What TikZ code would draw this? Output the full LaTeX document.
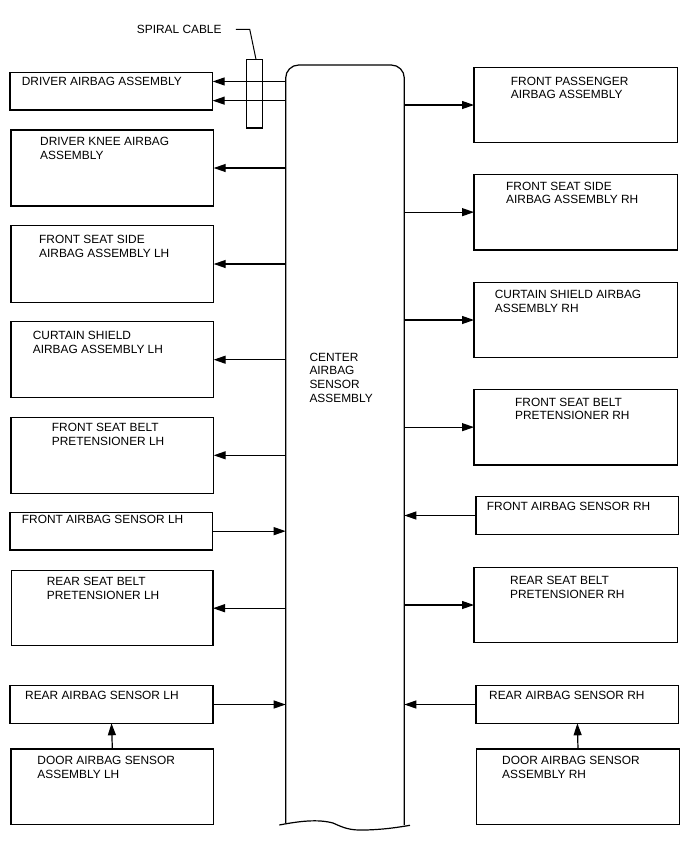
\documentclass[tikz,border=0pt]{standalone}
\usepackage{fontspec}
\setmainfont{Liberation Sans}
\usetikzlibrary{arrows.meta, positioning, calc}

\begin{document}
\begin{tikzpicture}[
		x=1pt, y=-1pt,
		every node/.style={font=\fontsize{11.9}{13.6}\selectfont},
		box/.style={draw, line width=1.2pt, rectangle, anchor=north west, outer sep=0pt, inner sep=0pt},
		lbl/.style={anchor=north west, inner sep=0pt, align=left},
		sig/.style={-{Triangle[length=12pt, width=8pt]}, line width=1.2pt}
		]
		\useasboundingbox (0,0) rectangle (688,852);
		
		% Center unit
		\node[minimum width=118.6, minimum height=760, anchor=north west, inner sep=0pt, outer sep=0pt] (ecu) at (285.7,65) {};
		\draw[line width=1.2pt, rounded corners=13pt] ([yshift=1.7pt]ecu.south west) -- (ecu.north west) -- (ecu.north east) -- (ecu.south east);
		\draw[line width=1.2pt] (279.3,825) .. controls (300,821) and (318,819) .. (333,823)
		.. controls (344,828) and (350,830.5) .. (365,830)
		.. controls (385,829.5) and (400,827) .. (410,825.3);
		\node[lbl] at ([shift={(23.6,287.7)}]ecu.north west) {CENTER\\AIRBAG\\SENSOR\\ASSEMBLY};
		
		% Spiral cable
		\node[box, minimum width=15.6, minimum height=68.7] (spiral) at (246.7,59.3) {};
		\node[lbl] (spcab) at (136.7,25) {SPIRAL CABLE};
		\draw[line width=1pt] ([xshift=14pt]spcab.east) -- ++(14,0) -- ([xshift=1.5pt]spiral.north);
		
		% Left column
		\node[box, minimum width=202.7, minimum height=37.7] (dab) at (10,72.3) {};
		\node[lbl] at ([shift={(11.7,4.4)}]dab.north west) {DRIVER AIRBAG ASSEMBLY};
		\node[box, minimum width=202.7, minimum height=76] (knee) at (11,130) {};
		\node[lbl] at ([shift={(29,7.3)}]knee.north west) {DRIVER KNEE AIRBAG\\ASSEMBLY};
		\node[box, minimum width=202.7, minimum height=76.6] (fssl) at (11,225.7) {};
		\node[lbl] at ([shift={(28,9.3)}]fssl.north west) {FRONT SEAT SIDE\\AIRBAG ASSEMBLY LH};
		\node[box, minimum width=202.7, minimum height=76] (csl) at (11,321.7) {};
		\node[lbl] at ([shift={(21.7,9.3)}]csl.north west) {CURTAIN SHIELD\\AIRBAG ASSEMBLY LH};
		\node[box, minimum width=202.7, minimum height=76] (fsbl) at (11,417.3) {};
		\node[lbl] at ([shift={(40.7,6)}]fsbl.north west) {FRONT SEAT BELT\\PRETENSIONER LH};
		\node[box, minimum width=202.7, minimum height=37.7] (fasl) at (10,512.3) {};
		\node[lbl] at ([shift={(11.7,2.7)}]fasl.north west) {FRONT AIRBAG SENSOR LH};
		\node[box, minimum width=201.5, minimum height=75] (rsbl) at (11.5,570.7) {};
		\node[lbl] at ([shift={(35.2,6.3)}]rsbl.north west) {REAR SEAT BELT\\PRETENSIONER LH};
		\node[box, minimum width=203, minimum height=37.6] (rasl) at (10,685.7) {};
		\node[lbl] at ([shift={(15,5)}]rasl.north west) {REAR AIRBAG SENSOR LH};
		\node[box, minimum width=202.7, minimum height=75.7] (dasl) at (11,749) {};
		\node[lbl] at ([shift={(26.3,7)}]dasl.north west) {DOOR AIRBAG SENSOR\\ASSEMBLY LH};
		
		% Right column
		\node[box, minimum width=203.7, minimum height=75.4] (fpab) at (474,67.3) {};
		\node[lbl] at ([shift={(36.7,9.4)}]fpab.north west) {FRONT PASSENGER\\AIRBAG ASSEMBLY};
		\node[box, minimum width=203.7, minimum height=75.7] (fssr) at (474,174.3) {};
		\node[lbl] at ([shift={(32,7.4)}]fssr.north west) {FRONT SEAT SIDE\\AIRBAG ASSEMBLY RH};
		\node[box, minimum width=203.7, minimum height=75.4] (csr) at (474,282.3) {};
		\node[lbl] at ([shift={(20.7,7.7)}]csr.north west) {CURTAIN SHIELD AIRBAG\\ASSEMBLY RH};
		\node[box, minimum width=203.7, minimum height=75.7] (fsbr) at (474,389.3) {};
		\node[lbl] at ([shift={(41,8.4)}]fsbr.north west) {FRONT SEAT BELT\\PRETENSIONER RH};
		\node[box, minimum width=202.7, minimum height=37.6] (fasr) at (476,496.7) {};
		\node[lbl] at ([shift={(10.7,5)}]fasr.north west) {FRONT AIRBAG SENSOR RH};
		\node[box, minimum width=203.3, minimum height=75.4] (rsbr) at (474,567.3) {};
		\node[lbl] at ([shift={(36,8.7)}]rsbr.north west) {REAR SEAT BELT\\PRETENSIONER RH};
		\node[box, minimum width=202.7, minimum height=37.6] (rasr) at (476,685.7) {};
		\node[lbl] at ([shift={(13,5)}]rasr.north west) {REAR AIRBAG SENSOR RH};
		\node[box, minimum width=202.6, minimum height=75.7] (dasr) at (476.7,749) {};
		\node[lbl] at ([shift={(25.3,7)}]dasr.north west) {DOOR AIRBAG SENSOR\\ASSEMBLY RH};
		
		% Signals, left side
		\coordinate (dabhi) at ([yshift=9.7pt]dab.east);
		\coordinate (dablo) at ([yshift=-9.5pt]dab.east);
		\draw[sig] (ecu.west |- dabhi) -- (dabhi);
		\draw[sig] (ecu.west |- dablo) -- (dablo);
		\draw[sig] (ecu.west |- knee.east) -- (knee.east);
		\draw[sig] (ecu.west |- fssl.east) -- (fssl.east);
		\draw[sig] (ecu.west |- csl.east) -- (csl.east);
		\draw[sig] (ecu.west |- fsbl.east) -- (fsbl.east);
		\draw[sig] (fasl.east) -- (ecu.west |- fasl.east);
		\draw[sig] (ecu.west |- rsbl.east) -- (rsbl.east);
		\draw[sig] (rasl.east) -- (ecu.west |- rasl.east);
		\draw[sig] (dasl.north) -- (rasl.south);
		
		% Signals, right side
		\draw[sig] (ecu.east |- fpab.west) -- (fpab.west);
		\draw[sig] (ecu.east |- fssr.west) -- (fssr.west);
		\draw[sig] (ecu.east |- csr.west) -- (csr.west);
		\draw[sig] (ecu.east |- fsbr.west) -- (fsbr.west);
		\draw[sig] (fasr.west) -- (ecu.east |- fasr.west);
		\draw[sig] (ecu.east |- rsbr.west) -- (rsbr.west);
		\draw[sig] (rasr.west) -- (ecu.east |- rasr.west);
		\draw[sig] (dasr.north) -- (rasr.south);
		
	\end{tikzpicture}
\end{document}
